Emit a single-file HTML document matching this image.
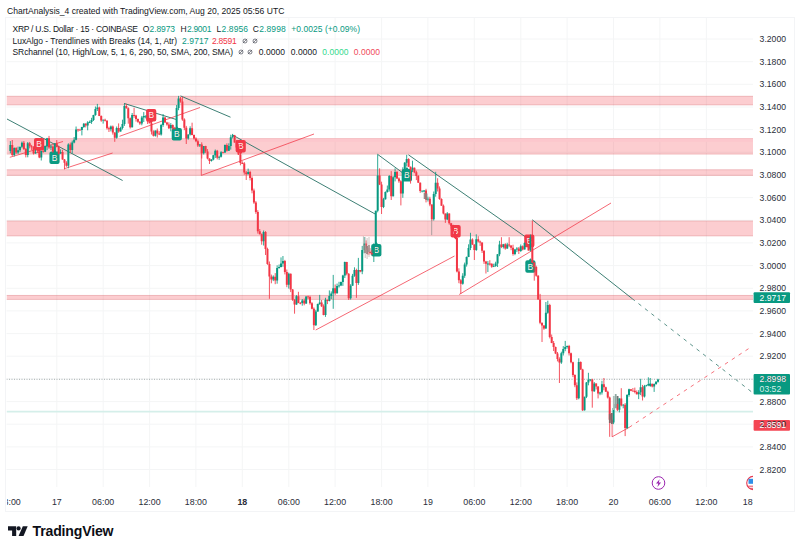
<!DOCTYPE html>
<html><head><meta charset="utf-8"><title>XRPUSD chart</title>
<style>
html,body{margin:0;padding:0;background:#fff;}
body{width:800px;height:551px;overflow:hidden;position:relative;font-family:"Liberation Sans",sans-serif;color:#131722;}
.t{position:absolute;white-space:pre;line-height:12px;height:12px;}
.lg{font-size:8.45px;left:12px;color:#131722;letter-spacing:0;}
.lg span{position:absolute;top:0;}
.g{color:#089981}.r{color:#f23645}.lgreen{color:#2ecc71}
svg{position:absolute;left:0;top:0;}
.ax{position:absolute;font-size:8.65px;line-height:10px;height:10px;color:#2a2e39;white-space:pre;}
.tx{position:absolute;font-size:8.85px;line-height:10px;height:10px;color:#2a2e39;white-space:pre;transform:translateX(-50%);}

</style></head>
<body>
<svg width="800" height="551" viewBox="0 0 800 551" font-family="Liberation Sans, sans-serif">
<rect x="5.5" y="17.5" width="789" height="494" fill="none" stroke="#f3f4f6" stroke-width="1"/>
<path d="M6.5 39.0H753M6.5 61.7H753M6.5 84.3H753M6.5 107.0H753M6.5 129.6H753M6.5 152.3H753M6.5 175.0H753M6.5 197.6H753M6.5 220.3H753M6.5 242.9H753M6.5 265.6H753M6.5 288.3H753M6.5 310.9H753M6.5 333.6H753M6.5 356.2H753M6.5 378.9H753M6.5 401.6H753M6.5 424.2H753M6.5 446.9H753M6.5 469.5H753M56.8 18V487M103.2 18V487M149.6 18V487M195.9 18V487M242.3 18V487M288.8 18V487M335.1 18V487M381.6 18V487M427.9 18V487M474.3 18V487M520.8 18V487M567.1 18V487M613.5 18V487M659.9 18V487M706.4 18V487" stroke="#f4f5f6" stroke-width="1" fill="none"/>
<defs><clipPath id="pane"><rect x="6.5" y="18" width="746.5" height="475"/></clipPath></defs>
<g clip-path="url(#pane)">
<rect x="6.5" y="95.9" width="746.5" height="9.3" fill="#f23645" fill-opacity="0.25"/>
<path d="M6.5 96.3H753M6.5 104.8H753" stroke="#b8424c" stroke-opacity="0.2" stroke-width="0.9" fill="none"/>
<rect x="6.5" y="138.2" width="746.5" height="16.2" fill="#f23645" fill-opacity="0.25"/>
<path d="M6.5 138.6H753M6.5 154.0H753" stroke="#b8424c" stroke-opacity="0.2" stroke-width="0.9" fill="none"/>
<rect x="6.5" y="169.4" width="746.5" height="6.4" fill="#f23645" fill-opacity="0.25"/>
<path d="M6.5 169.8H753M6.5 175.4H753" stroke="#b8424c" stroke-opacity="0.2" stroke-width="0.9" fill="none"/>
<rect x="6.5" y="220.7" width="746.5" height="15.5" fill="#f23645" fill-opacity="0.25"/>
<path d="M6.5 221.1H753M6.5 235.8H753" stroke="#b8424c" stroke-opacity="0.2" stroke-width="0.9" fill="none"/>
<rect x="6.5" y="295.0" width="746.5" height="4.8" fill="#f23645" fill-opacity="0.25"/>
<path d="M6.5 295.4H753M6.5 299.4H753" stroke="#b8424c" stroke-opacity="0.2" stroke-width="0.9" fill="none"/>
<rect x="6.5" y="138.6" width="746.5" height="3.2" fill="#fcc7cd"/>
<line x1="6.5" y1="411.7" x2="753" y2="411.7" stroke="#d5efea" stroke-width="1.8"/>
<line x1="6.5" y1="379.3" x2="753" y2="379.3" stroke="#8f9b99" stroke-width="0.8" stroke-dasharray="1 1.5"/>
<line x1="7" y1="119" x2="122.6" y2="180.5" stroke="#33786d" stroke-width="0.95"/>
<line x1="124" y1="103.4" x2="176.3" y2="119.5" stroke="#33786d" stroke-width="0.95"/>
<line x1="180.5" y1="95.9" x2="230.5" y2="117.2" stroke="#33786d" stroke-width="0.95"/>
<line x1="232" y1="134.7" x2="375.3" y2="214.1" stroke="#33786d" stroke-width="0.95"/>
<line x1="377.4" y1="154.2" x2="402.5" y2="172.7" stroke="#33786d" stroke-width="0.95"/>
<line x1="408.4" y1="154.8" x2="527" y2="238" stroke="#33786d" stroke-width="0.95"/>
<line x1="532.3" y1="219.8" x2="632" y2="298.5" stroke="#33786d" stroke-width="0.95"/>
<line x1="632" y1="298.5" x2="751.7" y2="392" stroke="#33786d" stroke-width="0.8" stroke-dasharray="3.6 4.6"/>
<line x1="9.8" y1="157.3" x2="63" y2="141.5" stroke="#f23645" stroke-width="0.75"/>
<line x1="64" y1="168.8" x2="112.6" y2="153" stroke="#f23645" stroke-width="0.75"/>
<line x1="119.5" y1="136.3" x2="200" y2="107.5" stroke="#f23645" stroke-width="0.75"/>
<line x1="201.3" y1="175.4" x2="314" y2="134" stroke="#f23645" stroke-width="0.75"/>
<line x1="315.7" y1="330" x2="454.5" y2="256" stroke="#f23645" stroke-width="0.75"/>
<line x1="459.2" y1="294.5" x2="611" y2="203" stroke="#f23645" stroke-width="0.75"/>
<line x1="612.1" y1="436.8" x2="629.1" y2="427.4" stroke="#f23645" stroke-width="0.75"/>
<line x1="629.1" y1="427.4" x2="751.7" y2="346.6" stroke="#f23645" stroke-width="0.7" stroke-dasharray="3.6 4.6"/>
<line x1="201.3" y1="146" x2="201.3" y2="175.4" stroke="#f23645" stroke-width="0.75"/>
<line x1="612.1" y1="421" x2="612.1" y2="436.8" stroke="#f23645" stroke-width="0.75"/>
<path d="M36.00 137.90h6.199999999999999a2.0 2.0 0 0 1 2.0 2.0v8.6a2.0 2.0 0 0 1 -2.0 2.0h-1.50l-1.6 2.0l-1.6 -2.0h-1.50a2.0 2.0 0 0 1 -2.0 -2.0v-8.6a2.0 2.0 0 0 1 2.0 -2.0z" fill="#f13a49"/>
<text x="39.1" y="147.2" font-size="8.4" fill="#fdeeee" text-anchor="middle">B</text>
<path d="M51.40 151.50h1.50l1.6 -2.0l1.6 2.0h1.50a2.0 2.0 0 0 1 2.0 2.0v8.6a2.0 2.0 0 0 1 -2.0 2.0h-6.199999999999999a2.0 2.0 0 0 1 -2.0 -2.0v-8.6a2.0 2.0 0 0 1 2.0 -2.0z" fill="#0b9a82"/>
<text x="54.5" y="160.8" font-size="8.4" fill="#fdeeee" text-anchor="middle">B</text>
<path d="M148.10 108.90h6.199999999999999a2.0 2.0 0 0 1 2.0 2.0v8.6a2.0 2.0 0 0 1 -2.0 2.0h-1.50l-1.6 2.0l-1.6 -2.0h-1.50a2.0 2.0 0 0 1 -2.0 -2.0v-8.6a2.0 2.0 0 0 1 2.0 -2.0z" fill="#f13a49"/>
<text x="151.2" y="118.2" font-size="8.4" fill="#fdeeee" text-anchor="middle">B</text>
<path d="M173.70 127.90h1.50l1.6 -2.0l1.6 2.0h1.50a2.0 2.0 0 0 1 2.0 2.0v8.6a2.0 2.0 0 0 1 -2.0 2.0h-6.199999999999999a2.0 2.0 0 0 1 -2.0 -2.0v-8.6a2.0 2.0 0 0 1 2.0 -2.0z" fill="#0b9a82"/>
<text x="176.8" y="137.2" font-size="8.4" fill="#fdeeee" text-anchor="middle">B</text>
<path d="M237.60 140.00h6.199999999999999a2.0 2.0 0 0 1 2.0 2.0v8.6a2.0 2.0 0 0 1 -2.0 2.0h-1.50l-1.6 2.0l-1.6 -2.0h-1.50a2.0 2.0 0 0 1 -2.0 -2.0v-8.6a2.0 2.0 0 0 1 2.0 -2.0z" fill="#f13a49"/>
<text x="240.7" y="149.3" font-size="8.4" fill="#fdeeee" text-anchor="middle">B</text>
<path d="M373.20 244.00h1.50l1.6 -2.0l1.6 2.0h1.50a2.0 2.0 0 0 1 2.0 2.0v8.6a2.0 2.0 0 0 1 -2.0 2.0h-6.199999999999999a2.0 2.0 0 0 1 -2.0 -2.0v-8.6a2.0 2.0 0 0 1 2.0 -2.0z" fill="#0b9a82"/>
<text x="376.3" y="253.3" font-size="8.4" fill="#fdeeee" text-anchor="middle">B</text>
<path d="M403.80 168.90h1.50l1.6 -2.0l1.6 2.0h1.50a2.0 2.0 0 0 1 2.0 2.0v8.6a2.0 2.0 0 0 1 -2.0 2.0h-6.199999999999999a2.0 2.0 0 0 1 -2.0 -2.0v-8.6a2.0 2.0 0 0 1 2.0 -2.0z" fill="#0b9a82"/>
<text x="406.9" y="178.2" font-size="8.4" fill="#fdeeee" text-anchor="middle">B</text>
<path d="M452.50 224.90h6.199999999999999a2.0 2.0 0 0 1 2.0 2.0v8.6a2.0 2.0 0 0 1 -2.0 2.0h-1.50l-1.6 2.0l-1.6 -2.0h-1.50a2.0 2.0 0 0 1 -2.0 -2.0v-8.6a2.0 2.0 0 0 1 2.0 -2.0z" fill="#f13a49"/>
<text x="455.6" y="234.2" font-size="8.4" fill="#fdeeee" text-anchor="middle">B</text>
<path d="M526.20 234.60h6.199999999999999a2.0 2.0 0 0 1 2.0 2.0v8.6a2.0 2.0 0 0 1 -2.0 2.0h-1.50l-1.6 2.0l-1.6 -2.0h-1.50a2.0 2.0 0 0 1 -2.0 -2.0v-8.6a2.0 2.0 0 0 1 2.0 -2.0z" fill="#f13a49"/>
<text x="529.3" y="243.9" font-size="8.4" fill="#fdeeee" text-anchor="middle">B</text>
<path d="M527.30 260.20h1.50l1.6 -2.0l1.6 2.0h1.50a2.0 2.0 0 0 1 2.0 2.0v8.6a2.0 2.0 0 0 1 -2.0 2.0h-6.199999999999999a2.0 2.0 0 0 1 -2.0 -2.0v-8.6a2.0 2.0 0 0 1 2.0 -2.0z" fill="#0b9a82"/>
<text x="530.4" y="269.5" font-size="8.4" fill="#fdeeee" text-anchor="middle">B</text>
<path d="M10.35 141.1V153.3M14.22 147.4V156.5M18.08 146.6V154.0M20.02 146.8V152.1M21.95 141.5V148.2M27.75 142.0V157.3M35.48 149.7V153.7M41.28 150.7V160.5M45.15 145.4V152.1M47.08 137.9V150.1M50.95 144.4V150.1M54.82 143.0V154.8M60.62 149.3V154.1M68.35 143.3V168.3M72.22 140.6V153.5M74.15 137.0V143.3M76.08 126.5V140.3M81.88 126.8V135.4M83.82 123.0V127.9M87.68 121.2V130.3M89.62 120.6V123.1M91.55 117.8V123.9M93.48 114.8V121.0M95.42 106.5V115.8M97.35 103.9V111.0M103.15 119.5V123.6M110.88 125.5V131.4M116.68 126.5V138.7M120.55 126.8V131.6M122.48 119.7V129.5M124.42 104.0V125.9M132.15 113.0V127.5M141.82 115.9V125.3M143.75 112.1V122.0M145.68 115.5V118.4M155.35 130.5V136.6M161.15 123.9V135.6M163.08 114.0V126.8M170.82 123.1V131.3M176.62 105.0V129.1M178.55 95.9V110.2M188.22 134.3V139.7M190.15 126.3V135.5M199.82 144.0V147.0M203.68 146.0V154.5M211.42 159.2V161.6M213.35 154.8V160.3M215.28 149.5V158.0M219.15 155.5V159.9M221.08 151.1V157.5M224.95 144.5V153.0M228.82 143.3V151.0M230.75 134.7V149.6M232.68 133.9V138.4M248.15 168.6V174.4M263.62 230.5V245.5M273.28 275.4V281.1M277.15 265.3V283.7M279.08 264.5V268.7M281.02 257.4V267.4M282.95 256.0V266.8M288.75 272.7V288.6M296.48 295.1V304.8M302.28 299.0V305.7M306.15 296.3V304.0M315.82 309.8V325.9M317.75 303.6V311.8M319.68 294.9V304.9M325.48 297.8V316.9M329.35 290.4V301.4M331.28 291.4V299.1M333.22 274.9V308.8M337.08 283.6V293.6M339.02 281.8V287.6M340.95 281.6V286.1M342.88 274.8V285.9M344.82 261.6V278.0M350.62 284.2V299.6M352.55 273.9V285.7M354.48 267.3V276.8M358.35 257.9V284.9M362.22 245.9V274.2M364.15 237.0V253.3M373.82 243.3V262.0M375.75 210.7V245.0M377.68 154.5V212.3M383.48 197.9V208.1M385.42 191.4V199.6M387.35 185.5V192.6M389.28 175.1V191.6M393.15 176.0V196.5M395.08 168.3V181.4M402.82 167.3V197.8M404.75 162.0V174.4M406.68 154.8V166.5M412.48 160.7V172.1M422.15 190.5V192.4M424.08 190.0V192.0M427.95 196.7V201.5M433.75 191.5V220.6M435.68 171.8V196.7M447.28 212.1V220.2M462.75 273.2V284.7M464.68 262.6V277.9M466.62 256.5V266.6M468.55 244.3V257.1M470.48 232.8V250.1M476.28 234.3V250.9M487.88 261.1V272.0M493.68 263.7V267.1M495.62 261.7V266.8M497.55 254.1V267.0M499.48 240.8V256.2M503.35 243.9V248.5M507.22 242.8V248.8M514.95 248.9V255.2M516.88 247.1V252.1M520.75 244.5V251.9M524.62 242.5V249.5M530.42 234.5V251.3M545.88 302.0V328.8M547.82 300.7V313.8M561.35 351.7V363.9M563.28 346.1V355.5M565.22 340.9V351.2M567.15 345.5V348.6M578.75 358.3V399.3M584.55 396.7V410.6M586.48 382.0V398.1M588.42 372.8V385.3M590.35 379.2V381.3M594.22 382.0V391.9M600.02 391.8V395.2M601.95 380.8V394.6M613.55 407.1V424.2M615.48 403.2V408.2M619.35 398.2V412.4M623.22 404.1V408.3M627.08 394.1V429.1M629.02 388.7V396.7M638.68 390.2V399.1M640.62 378.8V395.1M644.48 384.9V397.5M646.42 384.8V386.5M648.35 377.3V386.2M650.28 378.0V386.8M654.15 383.4V391.9M656.08 381.2V384.8M658.02 378.8V382.6" stroke="#089981" stroke-width="0.85" fill="none"/>
<path d="M12.28 140.0V156.0M16.15 147.1V154.1M23.88 141.0V150.0M25.82 148.0V157.4M29.68 141.9V148.4M31.62 144.9V150.1M33.55 146.1V154.5M37.42 149.6V152.7M39.35 149.4V158.2M43.22 147.7V152.7M49.02 135.9V148.9M52.88 145.5V152.8M56.75 140.0V147.4M58.68 145.6V154.6M62.55 149.7V159.7M64.48 159.0V169.4M66.42 161.2V166.8M70.28 142.5V152.8M78.02 128.8V131.7M79.95 128.8V130.4M85.75 123.2V127.4M99.28 106.6V116.1M101.22 115.4V121.8M105.08 118.7V121.5M107.02 120.2V129.6M108.95 126.7V132.0M112.82 125.5V134.6M114.75 132.3V141.8M118.62 123.4V132.8M126.35 103.9V108.6M128.28 107.3V123.7M130.22 117.5V128.5M134.08 107.7V117.8M136.02 114.8V121.6M137.95 118.5V122.8M139.88 121.2V124.9M147.62 113.9V124.0M149.55 117.8V123.3M151.48 121.2V134.5M153.42 130.3V136.5M157.28 128.5V137.6M159.22 131.1V135.1M165.02 116.8V122.8M166.95 121.8V125.7M168.88 122.3V129.0M172.75 124.4V129.9M174.68 126.9V129.3M180.48 96.9V102.7M182.42 96.7V120.8M184.35 118.3V130.2M186.28 125.9V144.0M192.08 122.7V135.3M194.02 134.5V139.7M195.95 137.3V142.2M197.88 139.5V147.0M201.75 142.3V158.5M205.62 145.8V153.1M207.55 149.1V159.4M209.48 158.3V164.0M217.22 149.9V159.4M223.02 151.7V153.4M226.88 143.3V151.7M234.62 134.9V142.7M236.55 140.1V149.2M238.48 144.2V155.0M240.42 153.2V165.3M242.35 161.4V163.8M244.28 162.1V174.7M246.22 171.0V180.0M250.08 170.8V180.4M252.02 176.3V193.3M253.95 188.6V203.9M255.88 201.1V213.8M257.82 210.2V233.6M259.75 229.0V234.4M261.68 233.4V244.7M265.55 231.1V255.0M267.48 247.7V264.8M269.42 261.5V298.8M271.35 274.6V283.3M275.22 273.1V284.2M284.88 259.9V274.4M286.82 269.5V287.2M290.68 273.5V292.1M292.62 289.0V300.9M294.55 299.1V313.7M298.42 291.8V303.2M300.35 302.0V304.3M304.22 298.6V305.3M308.08 295.7V299.0M310.02 295.8V304.7M311.95 302.1V309.3M313.88 307.4V330.0M321.62 300.0V307.0M323.55 304.4V315.3M327.42 299.7V304.1M335.15 284.5V294.9M346.75 261.8V275.3M348.68 273.1V300.0M356.42 268.7V297.9M360.28 270.0V272.3M366.08 240.4V249.9M368.02 247.7V254.9M369.95 248.1V254.6M371.88 250.2V255.3M379.62 168.3V185.1M381.55 181.7V214.0M391.22 171.1V200.0M397.02 170.9V179.1M398.95 177.4V182.8M400.88 180.1V205.4M408.62 158.2V167.0M410.55 166.5V183.6M414.42 167.5V173.2M416.35 170.7V180.1M418.28 175.1V182.9M420.22 182.4V192.8M426.02 188.8V202.4M429.88 196.8V206.2M431.82 204.3V220.9M437.62 178.2V191.5M439.55 186.4V199.8M441.48 198.3V205.8M443.42 204.5V214.4M445.35 213.5V222.9M449.22 213.4V224.7M451.15 222.9V228.6M453.08 224.7V235.3M455.02 231.1V238.1M456.95 235.0V272.4M458.88 268.3V283.2M460.82 279.1V293.9M472.42 238.3V244.9M474.35 244.4V260.0M478.22 236.2V242.6M480.15 240.6V245.9M482.08 242.4V253.0M484.02 250.4V263.9M485.95 260.9V273.5M489.82 260.2V265.5M491.75 263.3V267.8M501.42 237.2V248.1M505.28 243.2V249.7M509.15 237.2V247.1M511.08 245.3V250.2M513.02 244.7V255.7M518.82 247.0V254.0M522.68 245.4V250.4M526.55 239.8V246.1M528.48 244.8V250.6M532.35 220.6V263.1M534.28 262.0V280.7M536.22 265.7V276.7M538.15 275.1V299.7M540.08 293.9V324.2M542.02 322.6V342.0M543.95 325.2V329.8M549.75 303.8V338.4M551.68 334.5V343.2M553.62 341.0V351.0M555.55 346.6V354.1M557.48 352.0V361.4M559.42 357.3V383.0M569.08 344.9V355.5M571.02 352.6V363.3M572.95 361.7V377.1M574.88 374.3V387.2M576.82 382.4V400.0M580.68 361.4V369.9M582.62 368.8V411.0M592.28 378.8V407.7M596.15 383.3V389.5M598.08 386.2V398.4M603.88 378.0V390.3M605.82 386.7V391.9M607.75 390.7V398.5M609.68 396.6V436.8M611.62 419.3V422.6M617.42 403.7V411.1M621.28 388.2V406.4M625.15 403.1V436.1M630.95 389.1V391.2M632.88 388.0V391.2M634.82 387.6V393.3M636.75 390.4V394.5M642.55 384.9V400.5M652.22 383.4V387.4" stroke="#f23645" stroke-width="0.85" fill="none"/>
<path d="M10.35 145.1V151.1M14.22 147.9V154.9M18.08 150.3V152.4M20.02 146.8V150.3M21.95 142.8V146.8M27.75 143.2V155.1M35.48 151.9V153.4M41.28 151.0V157.6M45.15 146.1V151.7M47.08 138.2V146.1M50.95 146.4V147.6M54.82 143.2V151.6M60.62 152.1V153.5M68.35 144.6V165.8M72.22 142.6V150.0M74.15 139.8V142.6M76.08 129.5V139.8M81.88 127.1V129.9M83.82 123.8V127.1M87.68 122.5V125.4M89.62 122.1V122.9M91.55 119.9V122.1M93.48 115.0V119.9M95.42 108.9V115.0M97.35 107.5V108.9M103.15 119.8V120.6M110.88 126.4V129.2M116.68 128.0V137.8M120.55 128.1V131.4M122.48 124.1V128.1M124.42 106.1V124.1M132.15 115.1V127.3M141.82 117.5V123.6M143.75 116.0V117.5M145.68 115.8V116.6M155.35 130.6V135.8M161.15 124.9V134.4M163.08 117.6V124.9M170.82 125.1V128.3M176.62 108.0V128.5M178.55 98.4V108.0M188.22 134.6V138.4M190.15 128.2V134.6M199.82 144.5V145.4M203.68 146.0V153.2M211.42 159.6V160.9M213.35 155.3V159.6M215.28 150.8V155.3M219.15 156.8V157.7M221.08 152.3V156.8M224.95 145.1V152.6M228.82 146.1V150.8M230.75 137.3V146.1M232.68 135.2V137.3M248.15 172.0V174.2M263.62 231.9V241.2M273.28 276.8V279.5M277.15 268.0V280.6M279.08 266.9V268.0M281.02 263.6V266.9M282.95 261.0V263.6M288.75 273.7V284.7M296.48 296.3V304.5M302.28 300.5V302.9M306.15 296.4V303.6M315.82 311.4V325.2M317.75 303.9V311.4M319.68 302.5V303.9M325.48 299.8V314.9M329.35 295.9V300.9M331.28 293.4V295.9M333.22 288.3V293.4M337.08 285.9V293.2M339.02 285.5V286.3M340.95 281.9V285.5M342.88 275.4V281.9M344.82 261.9V275.4M350.62 285.7V298.2M352.55 275.8V285.7M354.48 270.1V275.8M358.35 270.0V283.1M362.22 250.1V271.6M364.15 243.4V250.1M373.82 245.0V253.4M375.75 210.7V245.0M377.68 175.5V210.7M383.48 199.3V207.0M385.42 191.9V199.3M387.35 189.5V191.9M389.28 175.9V189.5M393.15 177.3V196.3M395.08 171.9V177.3M402.82 171.8V193.5M404.75 162.8V171.8M406.68 159.1V162.8M412.48 167.7V169.8M422.15 190.8V191.6M424.08 190.6V191.4M427.95 198.7V199.5M433.75 194.0V219.3M435.68 182.7V194.0M447.28 213.4V219.4M462.75 275.7V283.8M464.68 264.4V275.7M466.62 257.0V264.4M468.55 248.0V257.0M470.48 239.5V248.0M476.28 239.2V250.0M487.88 263.6V264.4M493.68 265.9V266.8M495.62 263.6V265.9M497.55 254.3V263.6M499.48 244.6V254.3M503.35 244.2V247.1M507.22 244.4V248.4M514.95 249.6V253.9M516.88 248.6V249.6M520.75 246.3V251.1M524.62 243.0V249.4M530.42 237.5V250.5M545.88 312.8V328.4M547.82 305.0V312.8M561.35 353.3V362.6M563.28 349.0V353.3M565.22 346.9V349.0M567.15 345.9V346.9M578.75 361.9V398.3M584.55 396.7V410.3M586.48 382.6V396.7M588.42 379.8V382.6M590.35 379.5V380.3M594.22 383.6V391.2M600.02 392.6V393.5M601.95 384.2V392.6M613.55 407.9V422.4M615.48 404.1V407.9M619.35 398.6V409.7M623.22 404.7V405.5M627.08 395.1V428.1M629.02 389.2V395.1M638.68 392.3V394.3M640.62 387.3V392.3M644.48 385.9V396.4M646.42 385.3V386.1M648.35 384.1V385.3M650.28 383.5V386.0M654.15 384.0V386.6M656.08 381.8V384.0M658.02 379.4V381.8" stroke="#089981" stroke-width="2.0" fill="none"/>
<path d="M12.28 145.1V154.9M16.15 147.9V152.4M23.88 142.8V148.9M25.82 148.9V155.1M29.68 143.2V146.3M31.62 146.3V147.3M33.55 147.3V153.4M37.42 151.9V152.7M39.35 152.1V157.6M43.22 151.0V151.8M49.02 138.2V147.6M52.88 146.4V151.6M56.75 143.2V147.0M58.68 147.0V153.5M62.55 152.1V159.6M64.48 159.6V162.8M66.42 162.8V165.8M70.28 144.6V150.0M78.02 129.5V130.3M79.95 129.8V130.6M85.75 123.8V125.4M99.28 107.5V115.9M101.22 115.9V120.6M105.08 119.8V120.8M107.02 120.8V128.2M108.95 128.2V129.2M112.82 126.4V132.6M114.75 132.6V137.8M118.62 128.0V131.4M126.35 106.1V108.2M128.28 108.2V118.2M130.22 118.2V127.3M134.08 115.1V115.9M136.02 115.4V119.1M137.95 119.1V121.8M139.88 121.8V123.6M147.62 115.8V121.4M149.55 121.4V123.2M151.48 123.2V131.6M153.42 131.6V135.8M157.28 130.6V133.5M159.22 133.5V134.4M165.02 117.6V122.4M166.95 122.4V124.6M168.88 124.6V128.3M172.75 125.1V128.3M174.68 128.3V129.1M180.48 98.4V101.5M182.42 101.5V119.6M184.35 119.6V127.8M186.28 127.8V138.4M192.08 128.2V134.9M194.02 134.9V138.5M195.95 138.5V141.2M197.88 141.2V145.4M201.75 144.5V153.2M205.62 146.0V151.4M207.55 151.4V158.5M209.48 158.5V160.9M217.22 150.8V157.7M223.02 152.3V153.1M226.88 145.1V150.8M234.62 135.2V142.5M236.55 142.5V147.5M238.48 147.5V154.6M240.42 154.6V163.1M242.35 163.1V163.9M244.28 163.6V172.4M246.22 172.4V174.2M250.08 172.0V178.1M252.02 178.1V190.5M253.95 190.5V202.5M255.88 202.5V212.0M257.82 212.0V231.3M259.75 231.3V234.2M261.68 234.2V241.2M265.55 231.9V248.9M267.48 248.9V264.1M269.42 264.1V276.6M271.35 276.6V279.5M275.22 276.8V280.6M284.88 261.0V272.0M286.82 272.0V284.7M290.68 273.7V289.6M292.62 289.6V299.8M294.55 299.8V304.5M298.42 296.3V302.9M300.35 302.9V303.7M304.22 300.5V303.6M308.08 296.4V297.2M310.02 297.0V303.2M311.95 303.2V308.8M313.88 308.8V325.2M321.62 302.5V306.3M323.55 306.3V314.9M327.42 299.8V300.9M335.15 288.3V293.2M346.75 261.9V273.7M348.68 273.7V298.2M356.42 270.1V283.1M360.28 270.0V271.6M366.08 243.4V248.3M368.02 248.3V251.8M369.95 251.8V252.9M371.88 252.9V253.7M379.62 175.5V184.5M381.55 184.5V207.0M391.22 175.9V196.3M397.02 171.9V178.4M398.95 178.4V181.3M400.88 181.3V193.5M408.62 159.1V166.7M410.55 166.7V169.8M414.42 167.7V172.2M416.35 172.2V175.9M418.28 175.9V182.7M420.22 182.7V191.1M426.02 190.6V199.5M429.88 198.7V204.5M431.82 204.5V219.3M437.62 182.7V188.6M439.55 188.6V198.9M441.48 198.9V205.7M443.42 205.7V213.5M445.35 213.5V219.4M449.22 213.4V223.3M451.15 223.3V226.3M453.08 226.3V231.6M455.02 231.6V238.1M456.95 238.1V271.6M458.88 271.6V280.3M460.82 280.3V283.8M472.42 239.5V244.6M474.35 244.6V250.0M478.22 239.2V241.4M480.15 241.4V242.6M482.08 242.6V250.8M484.02 250.8V261.4M485.95 261.4V263.8M489.82 263.6V264.4M491.75 263.8V266.8M501.42 244.6V247.1M505.28 244.2V248.4M509.15 244.4V245.5M511.08 245.5V247.7M513.02 247.7V253.9M518.82 248.6V251.1M522.68 246.3V249.4M526.55 243.0V245.9M528.48 245.9V250.5M532.35 237.5V262.8M534.28 262.8V267.0M536.22 267.0V275.7M538.15 275.7V299.4M540.08 299.4V322.8M542.02 322.8V325.4M543.95 325.4V328.4M549.75 305.0V337.1M551.68 337.1V342.9M553.62 342.9V347.0M555.55 347.0V353.6M557.48 353.6V359.0M559.42 359.0V362.6M569.08 345.9V353.3M571.02 353.3V362.2M572.95 362.2V375.0M574.88 375.0V385.2M576.82 385.2V398.3M580.68 361.9V369.4M582.62 369.4V410.3M592.28 379.5V391.2M596.15 383.6V386.5M598.08 386.5V393.5M603.88 384.2V387.3M605.82 387.3V391.8M607.75 391.8V397.6M609.68 397.6V419.7M611.62 419.7V422.4M617.42 404.1V409.7M621.28 398.6V405.4M625.15 404.7V428.1M630.95 389.2V390.7M632.88 390.7V391.5M634.82 390.8V391.9M636.75 391.9V394.3M642.55 387.3V396.4M652.22 384.0V386.6" stroke="#f23645" stroke-width="2.0" fill="none"/>
<line x1="365.2" y1="245" x2="365.2" y2="253" stroke="#9a7b7b" stroke-width="1.8"/>
<line x1="367.1" y1="246" x2="367.1" y2="254" stroke="#8d6e6e" stroke-width="1.8"/>
<line x1="369.0" y1="245" x2="369.0" y2="252" stroke="#a58d8b" stroke-width="1.8"/>
<line x1="365.2" y1="237" x2="365.2" y2="258" stroke="#b9a9a8" stroke-width="0.7"/>
<line x1="367.1" y1="238" x2="367.1" y2="259" stroke="#b9a9a8" stroke-width="0.7"/>
<line x1="369.0" y1="237" x2="369.0" y2="257" stroke="#b9a9a8" stroke-width="0.7"/>
<line x1="363.4" y1="236" x2="363.4" y2="250" stroke="#c3b5b3" stroke-width="0.7"/>
<line x1="424.6" y1="192.5" x2="424.6" y2="199" stroke="#9b8a88" stroke-width="1.8"/>
<line x1="426.5" y1="193.5" x2="426.5" y2="200" stroke="#8a7f7d" stroke-width="1.8"/>
<line x1="431.7" y1="220" x2="431.7" y2="235.2" stroke="#a39a9a" stroke-width="0.9"/>
<line x1="609.8" y1="414" x2="609.8" y2="423" stroke="#8a6464" stroke-width="1.8"/>
<line x1="611.8" y1="413" x2="611.8" y2="424" stroke="#7d6a6a" stroke-width="1.8"/>
<line x1="613.8" y1="396" x2="613.8" y2="410" stroke="#a9beb9" stroke-width="1.8"/>
<line x1="615.7" y1="394" x2="615.7" y2="408" stroke="#8fa9a3" stroke-width="1.8"/>
<line x1="617.6" y1="396" x2="617.6" y2="404" stroke="#6f7574" stroke-width="1.8"/>
<g><circle cx="658.5" cy="483" r="6.3" fill="#fff" stroke="#9c27b0" stroke-width="1"/><path d="M659.6 479.2l-3.6 4.3h2.3l-0.9 3.4l3.7 -4.4h-2.3z" fill="#9c27b0"/></g>
<g><circle cx="753.3" cy="483" r="6.6" fill="#fff" stroke="#e53950" stroke-width="1.1"/><rect x="748.5" y="478.8" width="5" height="5" fill="#2f8fe8"/><path d="M748.2 486.2h6M749.5 488.3h4" stroke="#e53950" stroke-width="0.9"/></g>
</g>
<rect x="753.6" y="292.2" width="36.4" height="10.8" rx="1" fill="#089981"/>
<rect x="753.6" y="374" width="36.4" height="20.4" rx="1" fill="#089981"/>
<rect x="753.6" y="420" width="36.4" height="10.8" rx="1" fill="#f44653"/>
<g fill="#131722"><path d="M8 526.2h8.2v9.9h-4.1v-5.6H8z"/><circle cx="18.6" cy="528.4" r="2.1"/><path d="M22.8 526.2h4.9l-4.2 9.9h-4.9z"/></g>
</svg>
<div class="t" style="left:7px;top:5px;font-size:8.57px;color:#131722">ChartAnalysis_4 created with TradingView.com, Aug 20, 2025 05:56 UTC</div>
<div class="t" style="left:12.50px;top:23.4px;font-size:8.5px;color:#131722;letter-spacing:-0.266px">XRP / U.S. Dollar · 15 · COINBASE</div>
<div class="t" style="left:142.79px;top:23.4px;font-size:8.5px;color:#131722;letter-spacing:0.000px">O</div>
<div class="t" style="left:149.60px;top:23.4px;font-size:8.5px;color:#089981;letter-spacing:-0.120px">2.8973</div>
<div class="t" style="left:180.43px;top:23.4px;font-size:8.5px;color:#131722;letter-spacing:0.000px">H</div>
<div class="t" style="left:187.00px;top:23.4px;font-size:8.5px;color:#089981;letter-spacing:-0.320px">2.9001</div>
<div class="t" style="left:216.53px;top:23.4px;font-size:8.5px;color:#131722;letter-spacing:0.000px">L</div>
<div class="t" style="left:221.60px;top:23.4px;font-size:8.5px;color:#089981;letter-spacing:0.080px">2.8956</div>
<div class="t" style="left:252.73px;top:23.4px;font-size:8.5px;color:#131722;letter-spacing:0.000px">C</div>
<div class="t" style="left:259.20px;top:23.4px;font-size:8.5px;color:#089981;letter-spacing:0.120px">2.8998</div>
<div class="t" style="left:291.30px;top:23.4px;font-size:8.5px;color:#089981;letter-spacing:0.042px">+0.0025 (+0.09%)</div>
<div class="t" style="left:12.50px;top:34.6px;font-size:8.5px;color:#131722;letter-spacing:-0.030px">LuxAlgo - Trendlines with Breaks (14, 1, Atr)</div>
<div class="t" style="left:182.00px;top:34.6px;font-size:8.5px;color:#089981;letter-spacing:0.120px">2.9717</div>
<div class="t" style="left:212.00px;top:34.6px;font-size:8.5px;color:#f23645;letter-spacing:-0.240px">2.8591</div>
<svg style="left:240.60px;top:37.3px" width="8" height="8" viewBox="0 0 8 8"><circle cx="4" cy="4" r="2.0" fill="none" stroke="#4a4e59" stroke-width="0.7"/><path d="M1.9 6.1L6.1 1.9" stroke="#4a4e59" stroke-width="0.7"/></svg>
<svg style="left:251.00px;top:37.3px" width="8" height="8" viewBox="0 0 8 8"><circle cx="4" cy="4" r="2.0" fill="none" stroke="#4a4e59" stroke-width="0.7"/><path d="M1.9 6.1L6.1 1.9" stroke="#4a4e59" stroke-width="0.7"/></svg>
<div class="t" style="left:12.50px;top:46.0px;font-size:8.5px;color:#131722;letter-spacing:-0.087px">SRchannel (10, High/Low, 5, 1, 6, 290, 50, SMA, 200, SMA)</div>
<svg style="left:236.80px;top:48.2px" width="8" height="8" viewBox="0 0 8 8"><circle cx="4" cy="4" r="2.0" fill="none" stroke="#4a4e59" stroke-width="0.7"/><path d="M1.9 6.1L6.1 1.9" stroke="#4a4e59" stroke-width="0.7"/></svg>
<svg style="left:246.00px;top:48.2px" width="8" height="8" viewBox="0 0 8 8"><circle cx="4" cy="4" r="2.0" fill="none" stroke="#4a4e59" stroke-width="0.7"/><path d="M1.9 6.1L6.1 1.9" stroke="#4a4e59" stroke-width="0.7"/></svg>
<div class="t" style="left:258.80px;top:46.0px;font-size:8.5px;color:#131722;letter-spacing:0.040px">0.0000</div>
<div class="t" style="left:290.80px;top:46.0px;font-size:8.5px;color:#131722;letter-spacing:0.040px">0.0000</div>
<div class="t" style="left:322.20px;top:46.0px;font-size:8.5px;color:#35d98d;letter-spacing:0.080px">0.0000</div>
<div class="t" style="left:353.80px;top:46.0px;font-size:8.5px;color:#f04a5b;letter-spacing:0.040px">0.0000</div>
<div class="ax" style="left:759.6px;top:34.1px">3.2000</div>
<div class="ax" style="left:759.6px;top:56.8px">3.1800</div>
<div class="ax" style="left:759.6px;top:79.4px">3.1600</div>
<div class="ax" style="left:759.6px;top:102.1px">3.1400</div>
<div class="ax" style="left:759.6px;top:124.7px">3.1200</div>
<div class="ax" style="left:759.6px;top:147.4px">3.1000</div>
<div class="ax" style="left:759.6px;top:170.1px">3.0800</div>
<div class="ax" style="left:759.6px;top:192.7px">3.0600</div>
<div class="ax" style="left:759.6px;top:215.4px">3.0400</div>
<div class="ax" style="left:759.6px;top:238.0px">3.0200</div>
<div class="ax" style="left:759.6px;top:260.7px">3.0000</div>
<div class="ax" style="left:759.6px;top:283.4px">2.9800</div>
<div class="ax" style="left:759.6px;top:306.0px">2.9600</div>
<div class="ax" style="left:759.6px;top:328.7px">2.9400</div>
<div class="ax" style="left:759.6px;top:351.3px">2.9200</div>
<div class="ax" style="left:759.6px;top:374.0px">2.9000</div>
<div class="ax" style="left:759.6px;top:396.7px">2.8800</div>
<div class="ax" style="left:759.6px;top:419.3px">2.8600</div>
<div class="ax" style="left:759.6px;top:442.0px">2.8400</div>
<div class="ax" style="left:759.6px;top:464.6px">2.8200</div>
<div class="ax" style="left:759.6px;top:292.7px;color:#fff">2.9717</div>
<div class="ax" style="left:759.6px;top:374.4px;color:#fff">2.8998</div>
<div class="ax" style="left:759.6px;top:384.3px;color:#d2efea">03:52</div>
<div class="ax" style="left:759.6px;top:420.4px;color:#fff">2.8591</div>
<div class="tx" style="left:56.8px;top:497px">17</div>
<div class="tx" style="left:103.2px;top:497px">06:00</div>
<div class="tx" style="left:149.6px;top:497px">12:00</div>
<div class="tx" style="left:195.9px;top:497px">18:00</div>
<div class="tx" style="left:242.3px;top:497px;font-weight:bold">18</div>
<div class="tx" style="left:288.8px;top:497px">06:00</div>
<div class="tx" style="left:335.1px;top:497px">12:00</div>
<div class="tx" style="left:381.6px;top:497px">18:00</div>
<div class="tx" style="left:427.9px;top:497px">19</div>
<div class="tx" style="left:474.3px;top:497px">06:00</div>
<div class="tx" style="left:520.8px;top:497px">12:00</div>
<div class="tx" style="left:567.1px;top:497px">18:00</div>
<div class="tx" style="left:613.5px;top:497px">20</div>
<div class="tx" style="left:659.9px;top:497px">06:00</div>
<div class="tx" style="left:706.4px;top:497px">12:00</div>
<div class="ax" style="left:6.8px;top:497px;font-size:8.85px;width:16px;overflow:hidden"><span style="margin-left:-8.2px">18:00</span></div>
<div class="ax" style="left:742.8px;top:497px;font-size:8.85px;width:10.2px;overflow:hidden">18:00</div>
<div class="t" style="left:32.5px;top:523px;font-size:14.1px;font-weight:bold;line-height:16px;height:16px;letter-spacing:-0.17px;color:#0c0e15">TradingView</div>
</body></html>
